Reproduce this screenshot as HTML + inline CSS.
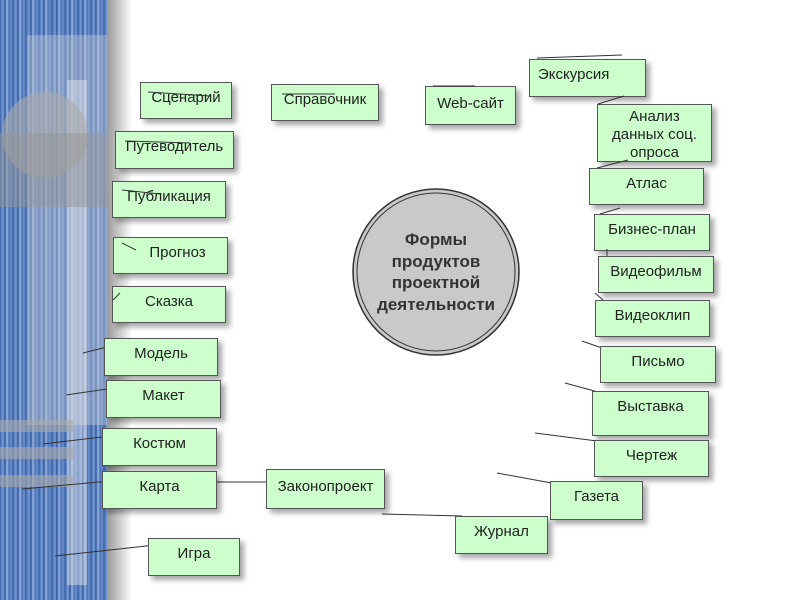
<!DOCTYPE html>
<html><head><meta charset="utf-8"><style>
body{margin:0;width:800px;height:600px;overflow:hidden;background:#fff;position:relative;font-family:"Liberation Sans",sans-serif}
#strip{position:absolute;left:0;top:0;width:107px;height:600px;background:repeating-linear-gradient(90deg,#3d64a8 0px,#7a9fd8 3px,#2e5597 5px,#9bb8e6 7px,#4a70b3 9px,#6f93cf 11px,#3760a5 13px);}
#shade{position:absolute;left:107px;top:0;width:25px;height:600px;background:linear-gradient(90deg,#9a9a9a,#fff)}
.b{position:absolute;background:#ccffcc;border:1px solid #555;box-shadow:4px 4px 5px rgba(0,0,0,.35);font-size:15px;color:#222;text-align:center;box-sizing:border-box;padding-top:6px;line-height:17px;white-space:nowrap}
</style></head><body>
<div id="strip"></div>
<div style="position:absolute;left:27px;top:35px;width:80px;height:390px;background:rgba(220,220,220,.35)"></div>
<div style="position:absolute;left:67px;top:80px;width:20px;height:505px;background:rgba(230,230,235,.45)"></div>
<div style="position:absolute;left:2px;top:92px;width:86px;height:86px;border-radius:50%;background:rgba(170,170,170,.6)"></div>
<div style="position:absolute;left:0;top:133px;width:107px;height:74px;background:rgba(150,150,150,.5)"></div>
<div style="position:absolute;left:0;top:420px;width:73px;height:12px;background:rgba(170,170,170,.6)"></div>
<div style="position:absolute;left:0;top:447px;width:73px;height:12px;background:rgba(170,170,170,.6)"></div>
<div style="position:absolute;left:0;top:475px;width:73px;height:12px;background:rgba(170,170,170,.6)"></div>
<div id="shade"></div>
<svg width="800" height="600" style="position:absolute;left:0;top:0">
<g stroke="#333" stroke-width="1" fill="none">
<line x1="537" y1="58" x2="622" y2="55"/>
<line x1="582" y1="341" x2="602" y2="348"/><line x1="565" y1="383" x2="598" y2="392"/>
<line x1="535" y1="433" x2="597" y2="441"/><line x1="497" y1="473" x2="557" y2="484"/>
<line x1="382" y1="514" x2="462" y2="516"/><line x1="216" y1="482" x2="276" y2="482"/>
<line x1="83" y1="353" x2="111" y2="346"/><line x1="66" y1="395" x2="114" y2="388"/>
<line x1="43" y1="444" x2="110" y2="436"/><line x1="22" y1="489" x2="110" y2="481"/>
<line x1="55" y1="556" x2="155" y2="545"/>
</g>
<circle cx="436" cy="272" r="83" fill="#c9c9c9" stroke="#333" stroke-width="1.5"/>
<circle cx="436" cy="272" r="79" fill="none" stroke="#333" stroke-width="1"/>
<g font-family="Liberation Sans" font-weight="bold" font-size="17" fill="#333" text-anchor="middle">
<text x="436" y="245">Формы</text>
<text x="436" y="267">продуктов</text>
<text x="436" y="288">проектной</text>
<text x="436" y="310">деятельности</text>
</g>
</svg>
<div class="b" style="left:140px;top:82px;width:92px;height:37px">Сценарий</div>
<div class="b" style="left:271px;top:84px;width:108px;height:37px">Справочник</div>
<div class="b" style="left:425px;top:86px;width:91px;height:39px;padding-top:8px">Web-сайт</div>
<div class="b" style="left:529px;top:59px;width:117px;height:38px;text-align:left;padding-left:8px">Экскурсия</div>
<div class="b" style="left:597px;top:104px;width:115px;height:58px;padding-top:3px;line-height:18px">Анализ<br>данных соц.<br>опроса</div>
<div class="b" style="left:589px;top:168px;width:115px;height:37px">Атлас</div>
<div class="b" style="left:594px;top:214px;width:116px;height:37px">Бизнес-план</div>
<div class="b" style="left:598px;top:256px;width:116px;height:37px">Видеофильм</div>
<div class="b" style="left:595px;top:300px;width:115px;height:37px">Видеоклип</div>
<div class="b" style="left:600px;top:346px;width:116px;height:37px">Письмо</div>
<div class="b" style="left:592px;top:391px;width:117px;height:45px">Выставка</div>
<div class="b" style="left:594px;top:440px;width:115px;height:37px">Чертеж</div>
<div class="b" style="left:550px;top:481px;width:93px;height:39px">Газета</div>
<div class="b" style="left:455px;top:516px;width:93px;height:38px">Журнал</div>
<div class="b" style="left:266px;top:469px;width:119px;height:40px;padding-top:8px">Законопроект</div>
<div class="b" style="left:115px;top:131px;width:119px;height:38px">Путеводитель</div>
<div class="b" style="left:112px;top:181px;width:114px;height:37px">Публикация</div>
<div class="b" style="left:113px;top:237px;width:115px;height:37px;padding-left:14px">Прогноз</div>
<div class="b" style="left:112px;top:286px;width:114px;height:37px">Сказка</div>
<div class="b" style="left:104px;top:338px;width:114px;height:38px">Модель</div>
<div class="b" style="left:106px;top:380px;width:115px;height:38px">Макет</div>
<div class="b" style="left:102px;top:428px;width:115px;height:38px">Костюм</div>
<div class="b" style="left:102px;top:471px;width:115px;height:38px">Карта</div>
<div class="b" style="left:148px;top:538px;width:92px;height:38px">Игра</div>
<svg width="800" height="600" style="position:absolute;left:0;top:0">
<g stroke="#333" stroke-width="1" fill="none">
<line x1="148" y1="92" x2="210" y2="96"/><line x1="282" y1="94" x2="335" y2="94"/>
<line x1="125" y1="141" x2="190" y2="143"/><line x1="122" y1="190" x2="160" y2="194"/>
<line x1="122" y1="243" x2="136" y2="250"/><line x1="113" y1="300" x2="120" y2="293"/>
<line x1="433" y1="86" x2="475" y2="86"/>
<line x1="598" y1="104" x2="624" y2="96"/>
<line x1="597" y1="168" x2="628" y2="160"/>
<line x1="600" y1="214" x2="620" y2="208"/><line x1="607" y1="249" x2="607" y2="256"/>
<line x1="595" y1="293" x2="603" y2="300"/>
</g>
</svg>
</body></html>
